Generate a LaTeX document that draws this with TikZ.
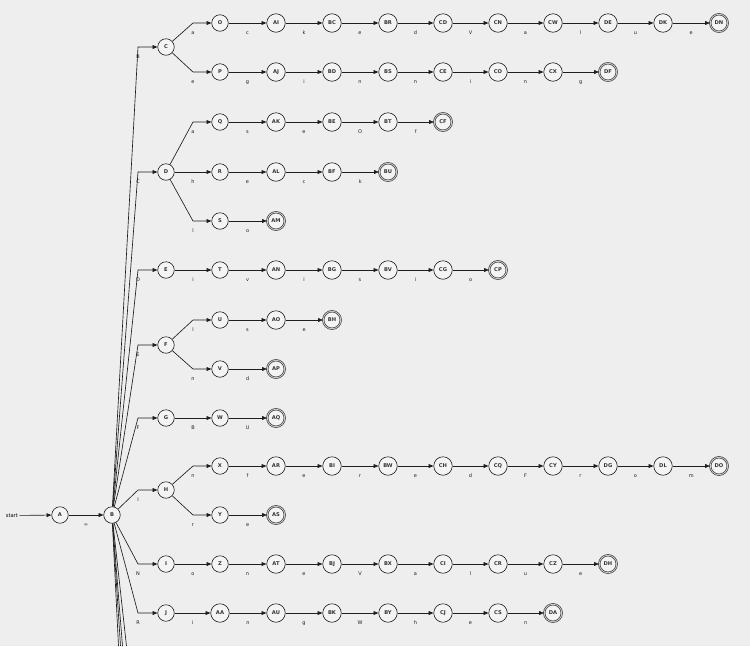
\documentclass[tikz,border=0pt]{standalone}
\usepackage{fontspec}
\setmainfont{DejaVu Sans}
\usetikzlibrary{arrows.meta}
\definecolor{bgc}{HTML}{EEEEEE}
\definecolor{nfill}{HTML}{F4F4F4}
\definecolor{ln}{HTML}{1E1E1E}
\tikzset{
  st/.style={circle, draw=ln, line width=0.6pt, fill=nfill, minimum size=16.5pt, inner sep=0pt, font=\fontsize{5.2}{6}\selectfont\bfseries, text=ln!90},
  st2/.style={st, minimum size=18.5pt},
  acc/.style={st2, minimum size=17.5pt, double=nfill!70!gray, double distance=0.8pt, draw=ln!85, line width=0.7pt},
  e/.style={draw=ln, line width=0.65pt, -{Triangle[length=4.8pt,width=3.8pt]}},
  lab/.style={font=\fontsize{5}{5.5}\selectfont, inner sep=0pt, anchor=base, yshift=-11.5pt, text=ln},
  plain/.style={draw=ln, line width=0.65pt}
}
\begin{document}
\begin{tikzpicture}[x=1pt,y=-1pt]
\fill[bgc] (0,0) rectangle (750,646);
\useasboundingbox (0,0) rectangle (750,646);
% start
\node[font=\fontsize{5.2}{6}\selectfont, inner sep=0pt, outer sep=1.8pt, anchor=west] (start) at (4,515.5) {start};
\node[st] (A) at (60,515) {A};
\node[st] (B) at (112,515) {B};
% level 1
\node[st] (C) at (166,47) {C};
\node[st] (D) at (166,172) {D};
\node[st] (E) at (166,270) {E};
\node[st] (F) at (166,345) {F};
\node[st] (G) at (166,418) {G};
\node[st] (H) at (166,490) {H};
\node[st] (I) at (166,564) {I};
\node[st] (J) at (166,613) {J};
% row O
\node[st] (O) at (220,23) {O};
\node[st2] (AI) at (276,23) {AI};
\node[st2] (BC) at (332,23) {BC};
\node[st2] (BR) at (388,23) {BR};
\node[st2] (CD) at (443,23) {CD};
\node[st2] (CN) at (498,23) {CN};
\node[st2] (CW) at (553,23) {CW};
\node[st2] (DE) at (608,23) {DE};
\node[st2] (DK) at (663,23) {DK};
\node[acc] (DN) at (719,23) {DN};
% row P
\node[st] (P) at (220,72) {P};
\node[st2] (AJ) at (276,72) {AJ};
\node[st2] (BD) at (332,72) {BD};
\node[st2] (BS) at (388,72) {BS};
\node[st2] (CE) at (443,72) {CE};
\node[st2] (CO) at (498,72) {CO};
\node[st2] (CX) at (553,72) {CX};
\node[acc] (DF) at (608,72) {DF};
% row Q
\node[st] (Q) at (220,122) {Q};
\node[st2] (AK) at (276,122) {AK};
\node[st2] (BE) at (332,122) {BE};
\node[st2] (BT) at (388,122) {BT};
\node[acc] (CF) at (443,122) {CF};
% row R
\node[st] (R) at (220,172) {R};
\node[st2] (AL) at (276,172) {AL};
\node[st2] (BF) at (332,172) {BF};
\node[acc] (BU) at (388,172) {BU};
% row S
\node[st] (S) at (220,221) {S};
\node[acc] (AM) at (276,221) {AM};
% row T
\node[st] (T) at (220,270) {T};
\node[st2] (AN) at (276,270) {AN};
\node[st2] (BG) at (332,270) {BG};
\node[st2] (BV) at (388,270) {BV};
\node[st2] (CG) at (443,270) {CG};
\node[acc] (CP) at (498,270) {CP};
% row U
\node[st] (U) at (220,320) {U};
\node[st2] (AO) at (276,320) {AO};
\node[acc] (BH) at (332,320) {BH};
% row V
\node[st] (V) at (220,369) {V};
\node[acc] (AP) at (276,369) {AP};
% row W
\node[st] (W) at (220,418) {W};
\node[acc] (AQ) at (276,418) {AQ};
% row X
\node[st] (X) at (220,466) {X};
\node[st2] (AR) at (276,466) {AR};
\node[st2] (BI) at (332,466) {BI};
\node[st2] (BW) at (388,466) {BW};
\node[st2] (CH) at (443,466) {CH};
\node[st2] (CQ) at (498,466) {CQ};
\node[st2] (CY) at (553,466) {CY};
\node[st2] (DG) at (608,466) {DG};
\node[st2] (DL) at (663,466) {DL};
\node[acc] (DO) at (719,466) {DO};
% row Y
\node[st] (Y) at (220,515) {Y};
\node[acc] (AS) at (276,515) {AS};
% row Z
\node[st] (Z) at (220,564) {Z};
\node[st2] (AT) at (276,564) {AT};
\node[st2] (BJ) at (332,564) {BJ};
\node[st2] (BX) at (388,564) {BX};
\node[st2] (CI) at (443,564) {CI};
\node[st2] (CR) at (498,564) {CR};
\node[st2] (CZ) at (553,564) {CZ};
\node[acc] (DH) at (608,564) {DH};
% row AA
\node[st2] (AA) at (220,613) {AA};
\node[st2] (AU) at (276,613) {AU};
\node[st2] (BK) at (332,613) {BK};
\node[st2] (BY) at (388,613) {BY};
\node[st2] (CJ) at (443,613) {CJ};
\node[st2] (CS) at (498,613) {CS};
\node[acc] (DA) at (553,613) {DA};
% off-page continuation coordinates
\coordinate (k1) at (118.5,646);
\coordinate (k2) at (120.5,646);
\coordinate (k3) at (122.5,646);
\coordinate (k4) at (126.5,646);

% edges
\draw[e] (start) -- (A);
\draw[e] (A) -- node[lab]{=} (B);
\draw[e] (B) -- (138,47) node[lab]{B} -- (C);
\draw[e] (B) -- (138,172) node[lab]{C} -- (D);
\draw[e] (B) -- (138,270) node[lab]{D} -- (E);
\draw[e] (B) -- (138,345) node[lab]{E} -- (F);
\draw[e] (B) -- (138,418) node[lab]{F} -- (G);
\draw[e] (B) -- (138,490) node[lab]{I} -- (H);
\draw[e] (B) -- (138,564) node[lab]{N} -- (I);
\draw[e] (B) -- (138,613) node[lab]{R} -- (J);
\foreach \k in {k1,k2,k3,k4} \draw[plain] (B) -- (\k);

\draw[e] (C) -- (193,23) node[lab]{a} -- (O);
\draw[e] (C) -- (193,72) node[lab]{e} -- (P);
\draw[e] (D) -- (193,122) node[lab]{a} -- (Q);
\draw[e] (D) -- node[lab]{h} (R);
\draw[e] (D) -- (193,221) node[lab]{l} -- (S);
\draw[e] (E) -- node[lab]{i} (T);
\draw[e] (F) -- (193,320) node[lab]{l} -- (U);
\draw[e] (F) -- (193,369) node[lab]{n} -- (V);
\draw[e] (G) -- node[lab]{B} (W);
\draw[e] (H) -- (193,466) node[lab]{n} -- (X);
\draw[e] (H) -- (193,515) node[lab]{r} -- (Y);
\draw[e] (I) -- node[lab]{o} (Z);
\draw[e] (J) -- node[lab]{i} (AA);

\foreach \a/\b/\l in {
  O/AI/c, AI/BC/k, BC/BR/e, BR/CD/d, CD/CN/V, CN/CW/a, CW/DE/l, DE/DK/u, DK/DN/e,
  P/AJ/g, AJ/BD/i, BD/BS/n, BS/CE/n, CE/CO/i, CO/CX/n, CX/DF/g,
  Q/AK/s, AK/BE/e, BE/BT/O, BT/CF/f,
  R/AL/e, AL/BF/c, BF/BU/k,
  S/AM/o,
  T/AN/v, AN/BG/i, BG/BV/s, BV/CG/i, CG/CP/o,
  U/AO/s, AO/BH/e,
  V/AP/d,
  W/AQ/U,
  X/AR/f, AR/BI/e, BI/BW/r, BW/CH/e, CH/CQ/d, CQ/CY/F, CY/DG/r, DG/DL/o, DL/DO/m,
  Y/AS/e,
  Z/AT/n, AT/BJ/e, BJ/BX/V, BX/CI/a, CI/CR/l, CR/CZ/u, CZ/DH/e,
  AA/AU/n, AU/BK/g, BK/BY/W, BY/CJ/h, CJ/CS/e, CS/DA/n}
  \draw[e] (\a) -- node[lab]{\l} (\b);
\end{tikzpicture}
\end{document}
